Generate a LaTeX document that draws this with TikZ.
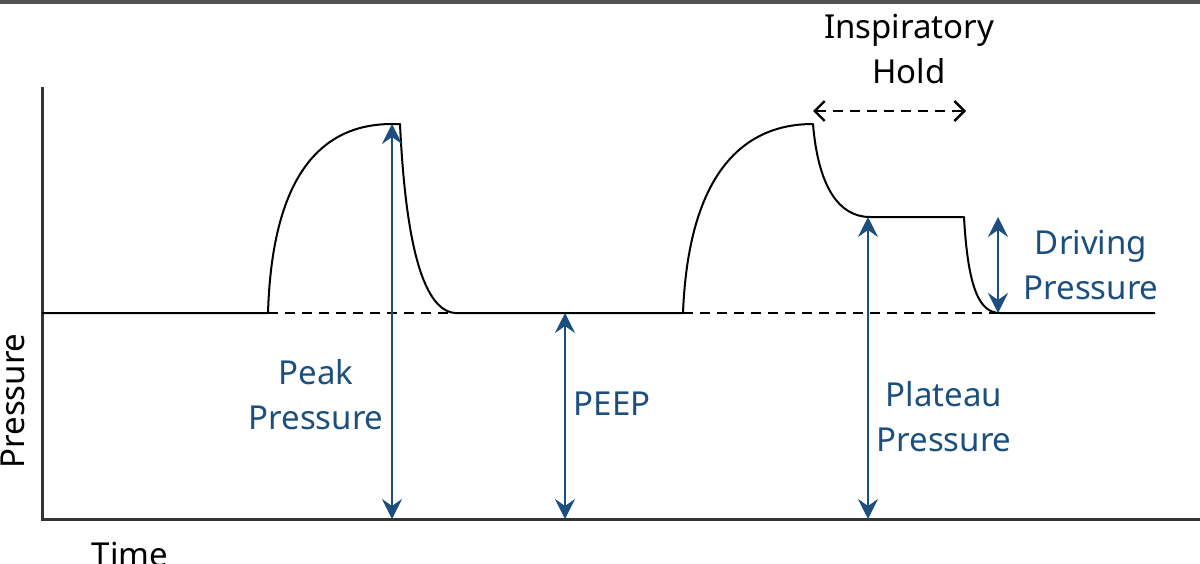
\documentclass[tikz,border=0pt]{standalone}
\usepackage{fontspec}
\setmainfont{Noto Sans}
\usetikzlibrary{arrows.meta}
\definecolor{navy}{HTML}{1C4F7E}
\definecolor{axisgray}{HTML}{333333}
\begin{document}
\begin{tikzpicture}[x=1pt,y=-1pt,
  curve/.style={line width=2pt,black,line join=round},
  dashline/.style={line width=1.6pt,black,dash pattern=on 10pt off 7pt},
  tipm/.tip={Stealth[length=20pt,width=20pt,inset=7pt]},
  measure/.style={line width=2.2pt,navy,tipm-tipm},
  tiph/.tip={Straight Barb[length=10pt,width=20pt,line width=2.4pt]},
  holdarrow/.style={line width=1.8pt,black,dash pattern=on 10pt off 7pt,tiph-tiph},
  lbl/.style={font=\fontsize{33}{45}\selectfont,align=center,inner sep=0pt},
  bluelbl/.style={lbl,text=navy}]
\useasboundingbox (0,0) rectangle (1200,563);
\fill[white] (0,0) rectangle (1200,563);
\fill[axisgray!85] (0,0) rectangle (1200,3.5);
% axes
\coordinate (ytop) at (42,87);
\coordinate (origin) at (42,519);
\coordinate (xend) at (1200,519);
\draw[line width=3pt,axisgray] (ytop) -- (origin) -- (xend);
% key points
\coordinate (b0) at (42,313);
\coordinate (r1) at (268,313);
\coordinate (p1a) at (392,124);
\coordinate (p1b) at (400,124);
\coordinate (e1) at (455,313);
\coordinate (r2) at (683,313);
\coordinate (p2) at (813,124);
\coordinate (pl1) at (870,217);
\coordinate (pl2) at (964,217);
\coordinate (e2) at (1000,313);
\coordinate (bend) at (1155,313);
% waveform
\draw[curve] (b0) -- (r1) .. controls (272,180) and (318,124) .. (p1a) -- (p1b)
  .. controls (405,230) and (420,310) .. (e1) -- (r2)
  .. controls (688,185) and (735,124) .. (p2)
  .. controls (818,185) and (838,217) .. (pl1) -- (pl2)
  .. controls (968,290) and (980,313) .. (e2) -- (bend);
\draw[dashline] (r1) -- (e1);
\draw[dashline] (r2) -- (e2);
% measurement arrows
\coordinate (a1t) at (392,124); \coordinate (a1b) at (392,519);
\coordinate (a2t) at (565,313); \coordinate (a2b) at (565,519);
\coordinate (a3t) at (868,217); \coordinate (a3b) at (868,519);
\coordinate (a4t) at (998,217); \coordinate (a4b) at (998,313);
\draw[measure] (a1b) -- (a1t);
\draw[measure] (a2b) -- (a2t);
\draw[measure] (a3b) -- (a3t);
\draw[measure] (a4b) -- (a4t);
% inspiratory hold
\coordinate (h1) at (813,111);
\coordinate (h2) at (966,111);
\draw[holdarrow] (h1) -- (h2);
% labels
\node[lbl,anchor=base] (insp) at (909,38) {Inspiratory};
\node[lbl,anchor=base] (hold) at (909,83) {Hold};
\node[bluelbl,anchor=base] (peak1) at (316,384) {Peak};
\node[bluelbl,anchor=base] (peak2) at (316,429) {Pressure};
\node[bluelbl,anchor=base] (peep) at (612,415) {PEEP};
\node[bluelbl,anchor=base] (plat1) at (944,406) {Plateau};
\node[bluelbl,anchor=base] (plat2) at (944,451) {Pressure};
\node[bluelbl,anchor=base] (drv1) at (1091,254) {Driving};
\node[bluelbl,anchor=base] (drv2) at (1091,299) {Pressure};
\node[lbl,anchor=base,rotate=90] (ylab) at (24,401) {Pressure};
\node[lbl,anchor=base] (xlab) at (130,566) {Time};
\end{tikzpicture}
\end{document}
